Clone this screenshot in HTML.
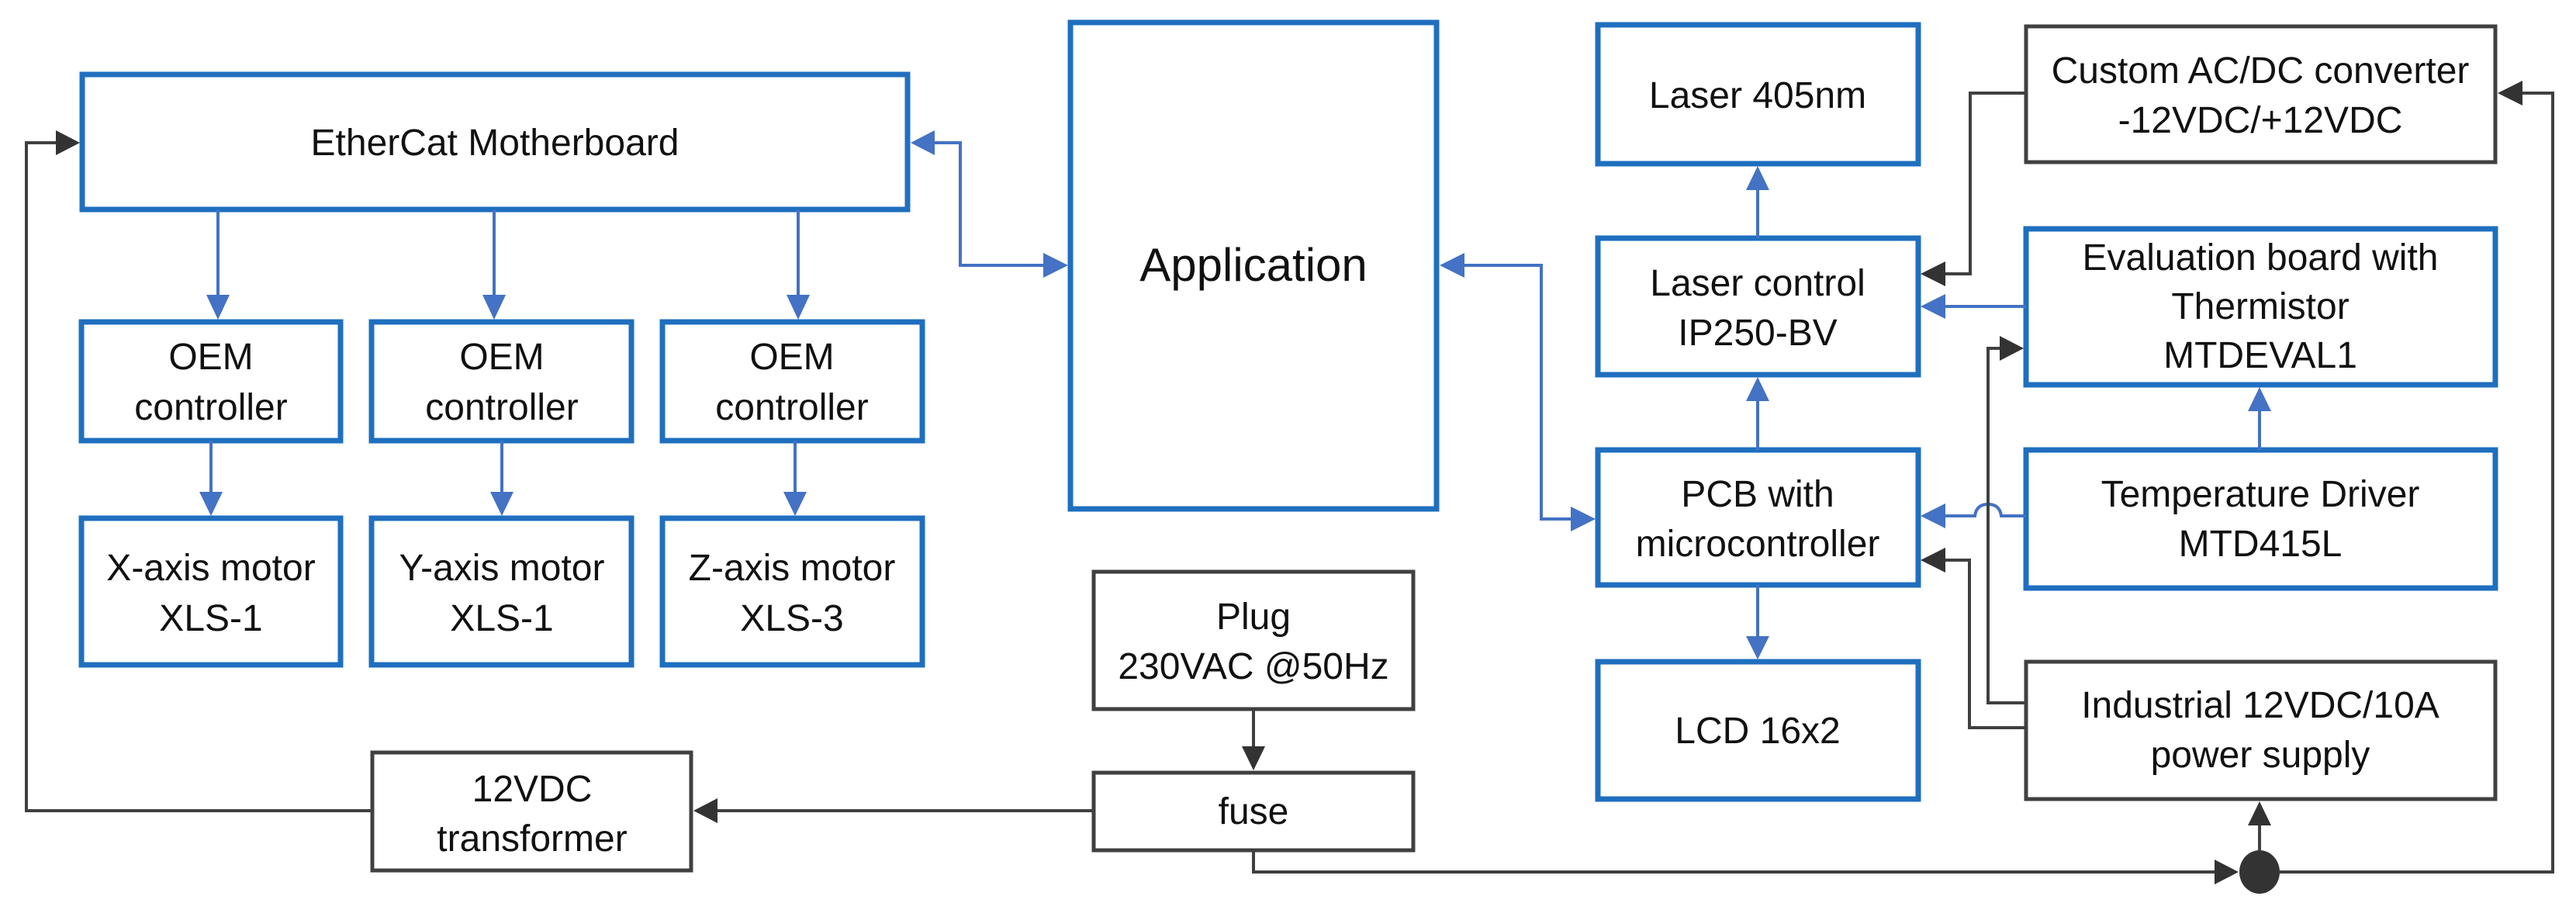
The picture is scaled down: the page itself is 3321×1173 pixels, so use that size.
<!DOCTYPE html>
<html><head><meta charset="utf-8"><style>
html,body{margin:0;padding:0;background:#fff;}
svg{display:block;}
text{font-family:"Liberation Sans",sans-serif;font-size:48px;fill:#111;text-anchor:middle;}
</style></head><body>
<svg width="3321" height="1173" viewBox="0 0 3321 1173" xmlns="http://www.w3.org/2000/svg">
<style>
.b{fill:#fff;stroke:#1f6fbf;stroke-width:7}
.k{fill:#fff;stroke:#404040;stroke-width:5}
.lb{fill:none;stroke:#4472c4;stroke-width:4}
.lk{fill:none;stroke:#404040;stroke-width:4}
</style>
<rect class="b" x="106" y="96" width="1064" height="174"/>
<text x="638" y="200">EtherCat Motherboard</text>
<rect class="b" x="105" y="415" width="334" height="153"/>
<text x="272" y="476">OEM</text><text x="272" y="541">controller</text>
<rect class="b" x="479" y="415" width="335" height="153"/>
<text x="647" y="476">OEM</text><text x="647" y="541">controller</text>
<rect class="b" x="854" y="415" width="335" height="153"/>
<text x="1021" y="476">OEM</text><text x="1021" y="541">controller</text>
<rect class="b" x="105" y="668" width="334" height="189"/>
<text x="272" y="748">X-axis motor</text><text x="272" y="813">XLS-1</text>
<rect class="b" x="479" y="668" width="335" height="189"/>
<text x="647" y="748">Y-axis motor</text><text x="647" y="813">XLS-1</text>
<rect class="b" x="854" y="668" width="335" height="189"/>
<text x="1021" y="748">Z-axis motor</text><text x="1021" y="813">XLS-3</text>
<rect class="k" x="480" y="970" width="411" height="152"/>
<text x="686" y="1033">12VDC</text><text x="686" y="1097">transformer</text>
<rect class="b" x="1380" y="29" width="472" height="627"/>
<text x="1616" y="362" style="font-size:60px">Application</text>
<rect class="k" x="1410" y="737" width="412" height="177"/>
<text x="1616" y="811">Plug</text><text x="1616" y="875">230VAC @50Hz</text>
<rect class="k" x="1410" y="996" width="412" height="100"/>
<text x="1616" y="1062">fuse</text>
<rect class="b" x="2060" y="32" width="413" height="179"/>
<text x="2266" y="139">Laser 405nm</text>
<rect class="b" x="2060" y="307" width="413" height="176"/>
<text x="2266" y="381">Laser control</text><text x="2266" y="445">IP250-BV</text>
<rect class="b" x="2060" y="580" width="413" height="174"/>
<text x="2266" y="653">PCB with</text><text x="2266" y="717">microcontroller</text>
<rect class="b" x="2060" y="853" width="413" height="177"/>
<text x="2266" y="958">LCD 16x2</text>
<rect class="k" x="2612" y="34" width="605" height="175"/>
<text x="2914" y="107">Custom AC/DC converter</text><text x="2914" y="171">-12VDC/+12VDC</text>
<rect class="b" x="2612" y="295" width="605" height="201"/>
<text x="2914" y="348">Evaluation board with</text><text x="2914" y="411">Thermistor</text><text x="2914" y="474">MTDEVAL1</text>
<rect class="b" x="2612" y="580" width="605" height="178"/>
<text x="2914" y="653">Temperature Driver</text><text x="2914" y="717">MTD415L</text>
<rect class="k" x="2612" y="853" width="605" height="177"/>
<text x="2914" y="925">Industrial 12VDC/10A</text><text x="2914" y="989">power supply</text>

<line class="lb" x1="281" y1="270" x2="281" y2="380"/><polygon points="266,380 296,380 281,412" fill="#4472c4"/>
<line class="lb" x1="637" y1="270" x2="637" y2="380"/><polygon points="622,380 652,380 637,412" fill="#4472c4"/>
<line class="lb" x1="1029" y1="270" x2="1029" y2="380"/><polygon points="1014,380 1044,380 1029,412" fill="#4472c4"/>
<line class="lb" x1="272" y1="568" x2="272" y2="634"/><polygon points="257,634 287,634 272,665" fill="#4472c4"/>
<line class="lb" x1="647" y1="568" x2="647" y2="634"/><polygon points="632,634 662,634 647,665" fill="#4472c4"/>
<line class="lb" x1="1025" y1="568" x2="1025" y2="634"/><polygon points="1010,634 1040,634 1025,665" fill="#4472c4"/>
<polyline class="lb" points="1205,184 1238,184 1238,342 1345,342"/>
<polygon points="1205,168 1205,200 1174,184" fill="#4472c4"/>
<polygon points="1345,326 1345,358 1377,342" fill="#4472c4"/>
<polyline class="lb" points="1888,342 1987,342 1987,669 2025,669"/>
<polygon points="1888,326 1888,358 1856,342" fill="#4472c4"/>
<polygon points="2025,653 2025,685 2057,669" fill="#4472c4"/>
<line class="lb" x1="2266" y1="307" x2="2266" y2="245"/><polygon points="2251,245 2281,245 2266,214" fill="#4472c4"/>
<line class="lb" x1="2266" y1="580" x2="2266" y2="517"/><polygon points="2251,517 2281,517 2266,486" fill="#4472c4"/>
<line class="lb" x1="2266" y1="754" x2="2266" y2="820"/><polygon points="2251,820 2281,820 2266,850" fill="#4472c4"/>
<line class="lb" x1="2612" y1="395" x2="2508" y2="395"/><polygon points="2508,379 2508,411 2476,395" fill="#4472c4"/>
<path class="lb" d="M2612,665 L2580,665 Q2578,650 2563,650 Q2548,650 2546,665 L2508,665"/><polygon points="2508,649 2508,681 2476,665" fill="#4472c4"/>
<line class="lb" x1="2913" y1="580" x2="2913" y2="530"/><polygon points="2898,530 2928,530 2913,499" fill="#4472c4"/>

<polyline class="lk" points="480,1045 34,1045 34,184 72,184"/><polygon points="72,168 72,200 103,184" fill="#333"/>
<line class="lk" x1="1410" y1="1045" x2="925" y2="1045"/><polygon points="925,1029 925,1061 894,1045" fill="#333"/>
<line class="lk" x1="1616" y1="914" x2="1616" y2="962"/><polygon points="1601,962 1631,962 1616,993" fill="#333"/>
<polyline class="lk" points="1616,1096 1616,1124 2855,1124"/><polygon points="2855,1108 2855,1140 2886,1124" fill="#333"/>
<ellipse cx="2913" cy="1124" rx="26" ry="28" fill="#333"/>
<line class="lk" x1="2913" y1="1096" x2="2913" y2="1064"/><polygon points="2898,1064 2928,1064 2913,1033" fill="#333"/>
<polyline class="lk" points="2939,1124 3291,1124 3291,120 3252,120"/><polygon points="3252,104 3252,136 3220,120" fill="#333"/>
<polyline class="lk" points="2612,120 2540,120 2540,353 2508,353"/><polygon points="2508,337 2508,369 2476,353" fill="#333"/>
<polyline class="lk" points="2612,906 2563,906 2563,449 2578,449"/><polygon points="2578,433 2578,465 2609,449" fill="#333"/>
<polyline class="lk" points="2612,938 2539,938 2539,722 2508,722"/><polygon points="2508,706 2508,738 2476,722" fill="#333"/>
</svg>
</body></html>
